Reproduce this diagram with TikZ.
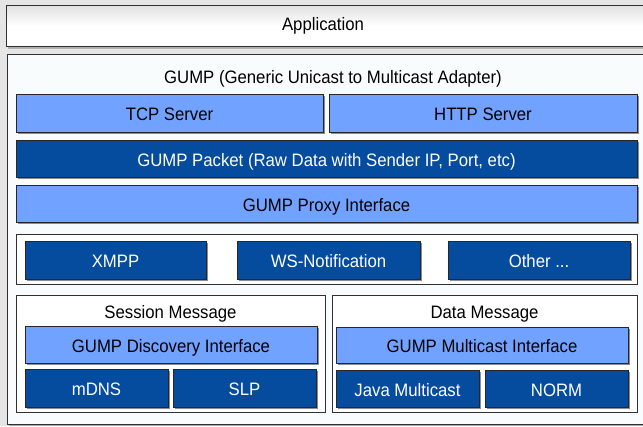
\documentclass[tikz,border=0pt]{standalone}
\usepackage{fontspec}
\setmainfont{Liberation Sans}[FakeStretch=0.93]
\usetikzlibrary{shadows}
\definecolor{lblue}{HTML}{72A2FF}
\definecolor{dblue}{HTML}{054B9E}
\definecolor{frame}{HTML}{303030}
\definecolor{gumpbg}{HTML}{F8FCFC}
\tikzset{
  x=1pt, y=-1pt,
  every node/.style={font=\fontsize{18}{20}\selectfont, inner sep=0pt, text height=15pt, text depth=0pt},
  boxbase/.style={draw=black!85, line width=0.9pt, drop shadow={shadow xshift=1.5pt, shadow yshift=-1.5pt, fill=black!45, opacity=1}},
  lb/.style={boxbase, fill=lblue, text=black},
  db/.style={boxbase, fill=dblue, text=white},
  holder/.style={draw=frame, line width=0.9pt, fill=white, drop shadow={shadow xshift=1.2pt, shadow yshift=-1.2pt, fill=black!35, opacity=1}},
  label/.style={text=black}
}
\begin{document}
\begin{tikzpicture}
\useasboundingbox (0,0) rectangle (643,426);
\fill[black!10] (0,0) rectangle (643,426);
% Application
\fill[black!30] (8,7) rectangle (650,49);
\node[draw=frame, line width=1pt, top color=black!12, bottom color=white, middle color=white, minimum width=644, minimum height=41, anchor=north west] (app) at (6,5) {};
\node[label] (apptext) at (323,23) {Application};
% GUMP outer
\fill[black!35] (9,56) rectangle (650,426);
\node[draw=frame, line width=1pt, fill=gumpbg, minimum width=643, minimum height=370, anchor=north west] (gump) at (7,54) {};
\node[label] (gumptitle) at (333,76) {GUMP (Generic Unicast to Multicast Adapter)};
% servers
\node[lb, minimum width=307, minimum height=38] (tcp) at (169.5,113) {TCP Server};
\node[lb, minimum width=308, minimum height=38] (http) at (483,113) {HTTP Server};
\node[db, minimum width=621, minimum height=37] (packet) at (326.5,158.5) {GUMP Packet (Raw Data with Sender IP, Port, etc)};
\node[lb, minimum width=621, minimum height=37] (proxy) at (326.5,203.5) {GUMP Proxy Interface};
% transports
\node[holder, minimum width=621, minimum height=50] (trans) at (326.5,259) {};
\node[db, minimum width=181, minimum height=38] (xmpp) at (115.5,260) {XMPP};
\node[db, minimum width=183, minimum height=38] (ws) at (328.5,260) {WS-Notification};
\node[db, minimum width=182, minimum height=38] (other) at (539,260) {Other ...};
% session
\node[holder, minimum width=309, minimum height=117] (sess) at (170.5,353.5) {};
\node[label] (sesstext) at (170.5,311) {Session Message};
\node[lb, minimum width=292, minimum height=37] (disc) at (171,344.5) {GUMP Discovery Interface};
\node[db, minimum width=143, minimum height=38] (mdns) at (96.5,388) {mDNS};
\node[db, minimum width=143, minimum height=38] (slp) at (244.5,388) {SLP};
% data
\node[holder, minimum width=305, minimum height=117] (data) at (484.5,353.5) {};
\node[label] (datatext) at (484.5,311) {Data Message};
\node[lb, minimum width=292, minimum height=36] (mcast) at (482,345) {GUMP Multicast Interface};
\node[db, minimum width=143, minimum height=37] (java) at (407.5,388.5) {Java Multicast};
\node[db, minimum width=143, minimum height=37] (norm) at (556.5,388.5) {NORM};
\end{tikzpicture}
\end{document}
